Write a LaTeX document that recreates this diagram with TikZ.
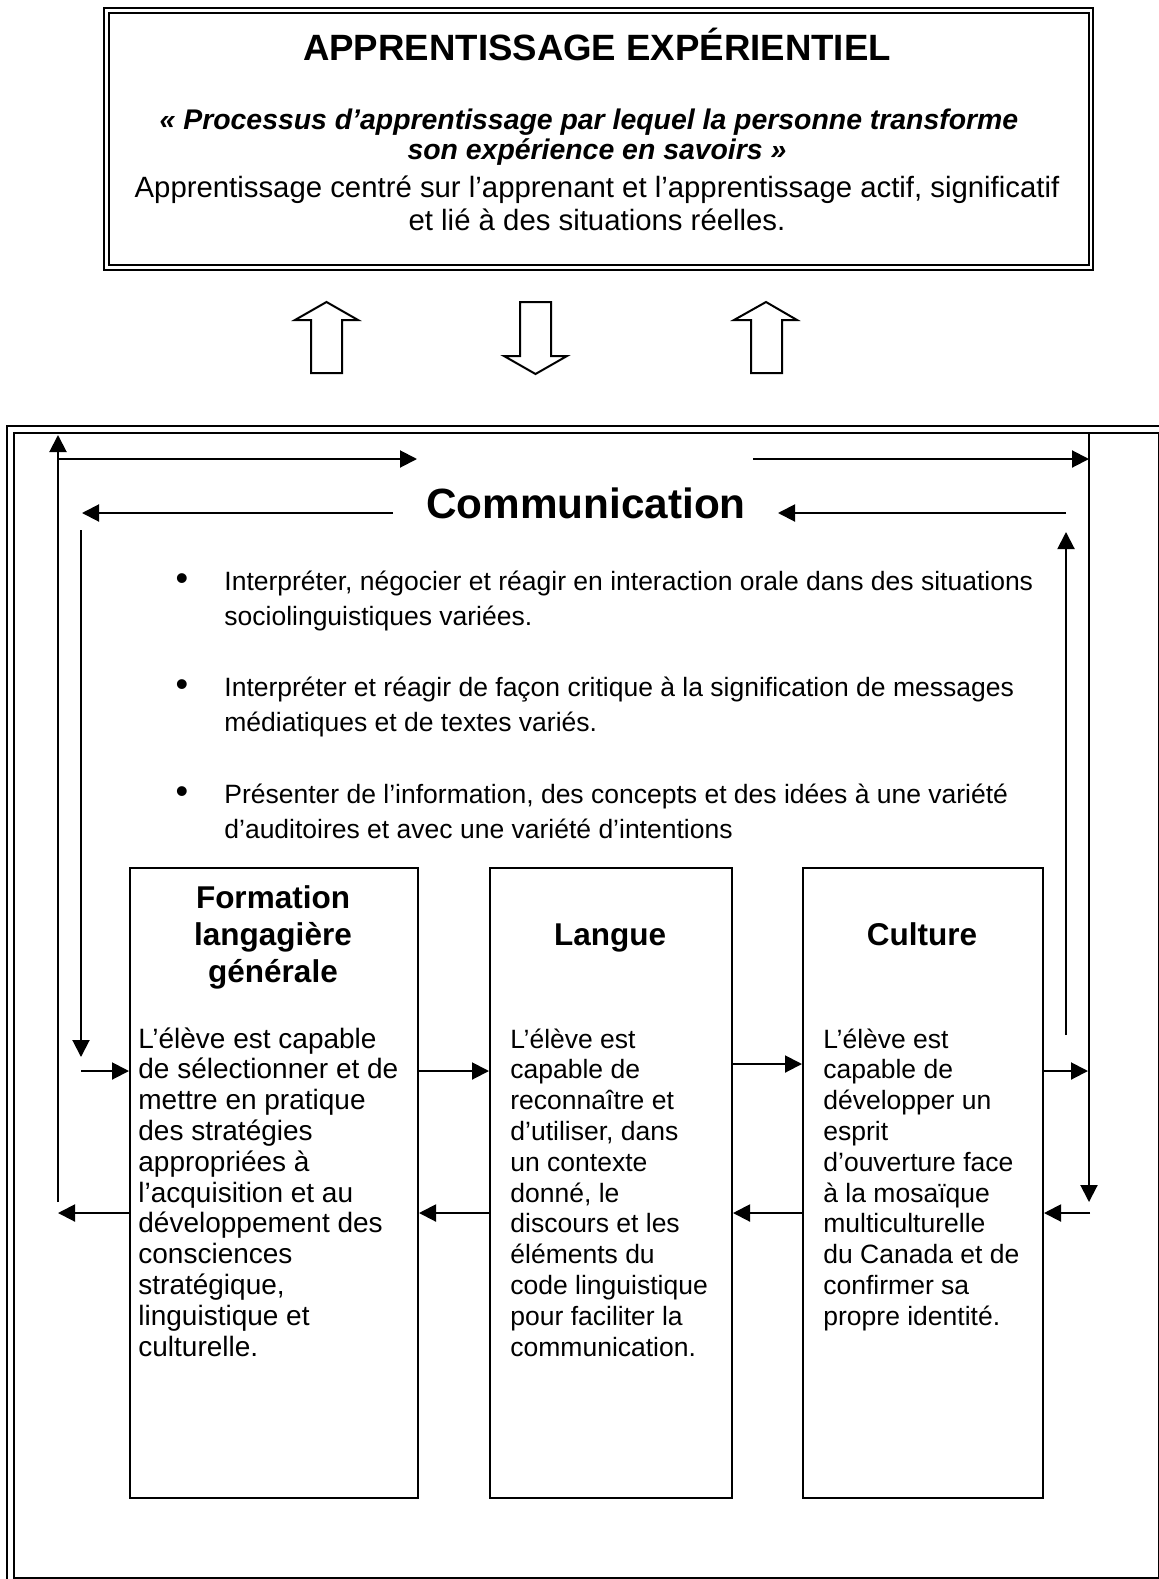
\documentclass[tikz,border=0pt]{standalone}
\usepackage{fontspec}
\setmainfont{Liberation Sans}
\usetikzlibrary{arrows.meta,calc}
\begin{document}
\begin{tikzpicture}[x=0.5pt,y=-0.5pt,
  frm/.style={draw, line width=1pt, inner sep=0pt, anchor=north west},
  arr/.style={line width=1pt, -{Triangle[length=8.5pt,width=8.5pt]}},
  blk/.style={line width=1pt, line join=miter},
  txt/.style={inner sep=0pt, anchor=base west, font=\fontsize{13.25pt}{15.4pt}\selectfont},
  ftxt/.style={inner sep=0pt, anchor=base west, font=\fontsize{14pt}{15.4pt}\selectfont},
  ctxt/.style={inner sep=0pt, anchor=base, font=\fontsize{14.67pt}{17pt}\selectfont},
  qtxt/.style={inner sep=0pt, anchor=base, font=\bfseries\itshape\fontsize{14.2pt}{17pt}\selectfont},
  ttl/.style={inner sep=0pt, anchor=base, font=\bfseries\fontsize{18.3pt}{21pt}\selectfont},
  btl/.style={inner sep=0pt, anchor=base, font=\bfseries\fontsize{15.75pt}{18.6pt}\selectfont},
  bul/.style={inner sep=0pt, anchor=base, font=\fontsize{18pt}{20pt}\selectfont},
  comm/.style={inner sep=0pt, anchor=base, font=\bfseries\fontsize{21.15pt}{25pt}\selectfont},
]
\useasboundingbox (0,0) rectangle (1159,1579);

% ---- top box
\node[frm, minimum width=494.5pt, minimum height=131pt] (top) at (103,7) {};
\draw[line width=1pt] ($(top.north west)+(5.5,6)$) rectangle ($(top.south east)+(-5.5,-6)$);
\node[ttl] (t1) at (597,60) {APPRENTISSAGE EXPÉRIENTIEL};
\node[qtxt] (t2) at (589,129) {« Processus d’apprentissage par lequel la personne transforme};
\node[qtxt] (t3) at (597,159) {son expérience en savoirs »};
\node[ctxt] (t4) at (597,197) {Apprentissage centré sur l’apprenant et l’apprentissage actif, significatif};
\node[ctxt] (t5) at (597,230) {et lié à des situations réelles.};

% ---- block arrows
\draw[blk] (326.5,302) -- (358,320) -- (342,320) -- (342,373) -- (311,373) -- (311,320) -- (295,320) -- cycle;
\draw[blk] (535.5,374) -- (567,356) -- (551,356) -- (551,302) -- (520,302) -- (520,356) -- (504,356) -- cycle;
\draw[blk] (766,302) -- (797,320) -- (782,320) -- (782,373) -- (751,373) -- (751,320) -- (734,320) -- cycle;

% ---- big frame
\node[frm, minimum width=572.5pt, minimum height=572.25pt] (frame) at (12.5,432) {};
\draw[line width=0.8pt] (7,1579) -- (7,426) -- (1159,426);

\node[comm] (cm) at (586,518) {Communication};

% ---- bullets
\foreach \b/\y in {b1/590, b2/696, b3/803}
  \node[bul] (\b) at (182,\y) {•};
\node[txt] (l1) at (224,590) {Interpréter, négocier et réagir en interaction orale dans des situations};
\node[txt] (l2) at (224,625) {sociolinguistiques variées.};
\node[txt] (l3) at (224,696) {Interpréter et réagir de façon critique à la signification de messages};
\node[txt] (l4) at (224,731) {médiatiques et de textes variés.};
\node[txt] (l5) at (224,803) {Présenter de l’information, des concepts et des idées à une variété};
\node[txt] (l6) at (224,838) {d’auditoires et avec une variété d’intentions};

% ---- three boxes
\node[frm, minimum width=144pt, minimum height=315pt] (form) at (129,867) {};
\node[frm, minimum width=121pt, minimum height=315pt] (lang) at (489,867) {};
\node[frm, minimum width=120pt, minimum height=315pt] (cult) at (802,867) {};

\node[btl] (ft1) at (273,908) {Formation};
\node[btl] (ft2) at (273,945) {langagière};
\node[btl] (ft3) at (273,982) {générale};
\node[btl] (lt1) at (610,945) {Langue};
\node[btl] (ct1) at (922,945) {Culture};

\foreach \s [count=\i] in {L’élève est capable, de sélectionner et de, mettre en pratique, des stratégies, appropriées à, l’acquisition et au, développement des, consciences, {stratégique,}, linguistique et, culturelle.}
  \node[ftxt] (fb\i) at (138,{1048+30.8*(\i-1)}) {\s};
\foreach \s [count=\i] in {L’élève est, capable de, reconnaître et, {d’utiliser, dans}, un contexte, {donné, le}, discours et les, éléments du, code linguistique, pour faciliter la, communication.}
  \node[txt] (lb\i) at (510,{1048+30.8*(\i-1)}) {\s};
\foreach \s [count=\i] in {L’élève est, capable de, développer un, esprit, d’ouverture face, à la mosaïque, multiculturelle, du Canada et de, confirmer sa, propre identité.}
  \node[txt] (cb\i) at (823,{1048+30.8*(\i-1)}) {\s};

% ---- connector coordinates
\coordinate (ya) at (0,1071);
\coordinate (yb) at (0,1064);
\coordinate (yc) at (0,1213);
\coordinate (lvb) at (58,1202);
\coordinate (lvt) at (58,435);
\coordinate (lhs) at (58,459);
\coordinate (lhe) at (417,459);
\coordinate (rhs) at (753,459);
\coordinate (rhe) at (1089,459);
\coordinate (rvt) at (1089,432);
\coordinate (rvb) at (1089,1202);
\coordinate (rin) at (1090,1213);
\coordinate (rout) at (1088,1071);
\coordinate (rivb) at (1066,1035);
\coordinate (rivt) at (1066,532);
\coordinate (cre) at (778,513);
\coordinate (crs) at (1066,513);
\coordinate (cls) at (393,513);
\coordinate (cle) at (82,513);
\coordinate (livt) at (81,530);
\coordinate (livb) at (81,1057);
\coordinate (lin) at (81,1071);
\coordinate (lout) at (58,1213);

% ---- connectors
\draw[arr] (lvb) -- (lvt);
\draw[arr] (lhs) -- (lhe);
\draw[arr] (rhs) -- (rhe);
\draw[arr] (rvt) -- (rvb);
\draw[arr] (rin) -- (cult.east |- rin);
\draw[arr] (cult.east |- rout) -- (rout);
\draw[arr] (rivb) -- (rivt);
\draw[arr] (crs) -- (cre);
\draw[arr] (cls) -- (cle);
\draw[arr] (livt) -- (livb);
\draw[arr] (lin) -- (form.west |- lin);
\draw[arr] (form.west |- lout) -- (lout);
\draw[arr] (form.east |- ya) -- (lang.west |- ya);
\draw[arr] (lang.east |- yb) -- (cult.west |- yb);
\draw[arr] (lang.west |- yc) -- (form.east |- yc);
\draw[arr] (cult.west |- yc) -- (lang.east |- yc);
\end{tikzpicture}
\end{document}
